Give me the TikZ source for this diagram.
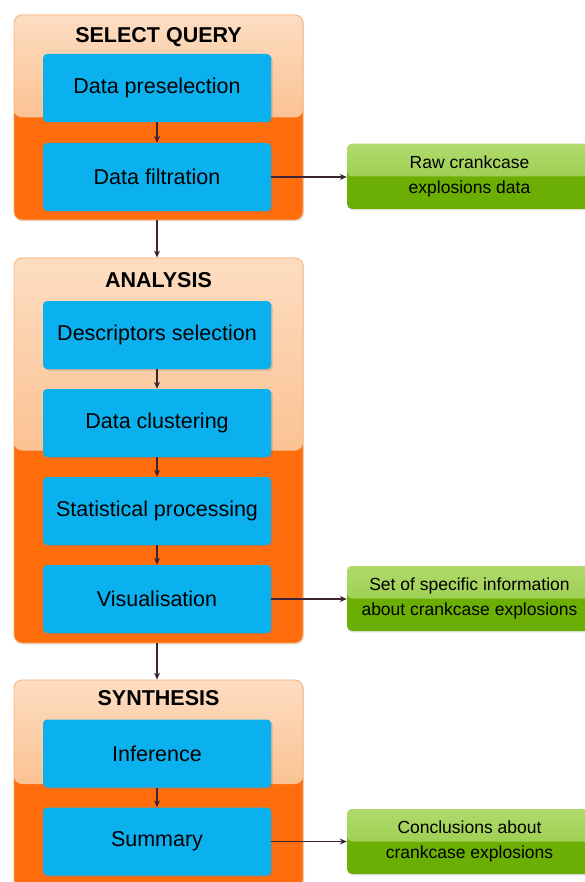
\documentclass[tikz,border=0pt]{standalone}
\usepackage{fontspec}
\setmainfont{Liberation Sans}
\usetikzlibrary{arrows.meta,shadows}
\definecolor{grpDeep}{HTML}{FF6D0C}
\definecolor{grpTop}{HTML}{FDDDC2}
\definecolor{grpMid}{HTML}{F9A863}
\definecolor{grpLine}{HTML}{F8B27A}
\definecolor{stepBlue}{HTML}{0BB1EF}
\definecolor{outTop}{HTML}{B0DA6C}
\definecolor{outMid}{HTML}{8DC63C}
\definecolor{outDeep}{HTML}{6CAF04}
\definecolor{arrowInk}{HTML}{3D2434}

\tikzset{
  groupbox/.style={draw=grpLine, line width=.8pt, fill=grpDeep, rounded corners=8pt,
    minimum width=289pt, inner sep=0pt,
    drop shadow={opacity=.2,shadow xshift=1pt,shadow yshift=-1.5pt},
    path picture={\shade[top color=grpTop,bottom color=grpMid]
      (path picture bounding box.north west) rectangle (path picture bounding box.east);}},
  grouptitle/.style={font=\fontsize{21.5}{24}\selectfont\bfseries},
  stepbox/.style={fill=stepBlue, rounded corners=4pt, minimum width=228pt,
    minimum height=68pt, inner sep=0pt, font=\fontsize{21.5}{24}\selectfont,
    drop shadow={opacity=.35,shadow xshift=1.5pt,shadow yshift=-1.5pt}},
  outbox/.style={fill=outDeep, rounded corners=5pt, minimum width=245pt,
    minimum height=65pt, inner sep=0pt, align=center, font=\fontsize{17.5}{25}\selectfont,
    drop shadow={opacity=.2,shadow xshift=1pt,shadow yshift=-1.5pt},
    path picture={\shade[top color=outTop,bottom color=outMid]
      (path picture bounding box.north west) rectangle (path picture bounding box.east);}},
  flow/.style={draw=arrowInk, line width=1.1pt, -{Stealth[length=7pt,width=6pt]}},
}

\begin{document}
\begin{tikzpicture}[x=1pt,y=-1pt]
\useasboundingbox (0,0) rectangle (585,882);
\clip (0,0) rectangle (585,882);
% stage frames
\node[groupbox, minimum height=205pt] (gsel) at (158.5,117.5) {};
\node[groupbox, minimum height=385pt] (gana) at (158.5,450.5) {};
\node[groupbox, minimum height=208pt] (gsyn) at (158.5,784) {};
\node[grouptitle] (tsel) at (158.5,37) {SELECT QUERY};
\node[grouptitle] (tana) at (158.5,280) {ANALYSIS};
\node[grouptitle] (tsyn) at (158.5,698) {SYNTHESIS};
% steps
\foreach \nm/\y/\txt in {pre/88/Data preselection, filt/177/Data filtration,
    desc/335/Descriptors selection, clus/423/Data clustering,
    stat/511/Statistical processing, vis/599/Visualisation,
    inf/753.5/Inference, summ/841.5/Summary}
  \node[stepbox] (\nm) at (157,\y) {\txt};
% results
\node[outbox] (raw) at (469.5,176.5) {Raw crankcase\\explosions data};
\node[outbox] (info) at (469.5,598.5) {Set of specific information\\about crankcase explosions};
\node[outbox] (concl) at (469.5,841.5) {Conclusions about\\crankcase explosions};
% arrows
\foreach \a/\b in {pre/filt, desc/clus, clus/stat, stat/vis, inf/summ}
  \draw[flow] (\a) -- (\b);
\draw[flow] (gsel.south -| filt) -- (gana.north -| filt);
\draw[flow] (gana.south -| filt) -- (gsyn.north -| filt);
\draw[flow] (filt.east) -- (filt.east -| raw.west);
\draw[flow] (vis.east) -- (vis.east -| info.west);
\draw[flow] (summ.east) -- (summ.east -| concl.west);
\end{tikzpicture}
\end{document}
